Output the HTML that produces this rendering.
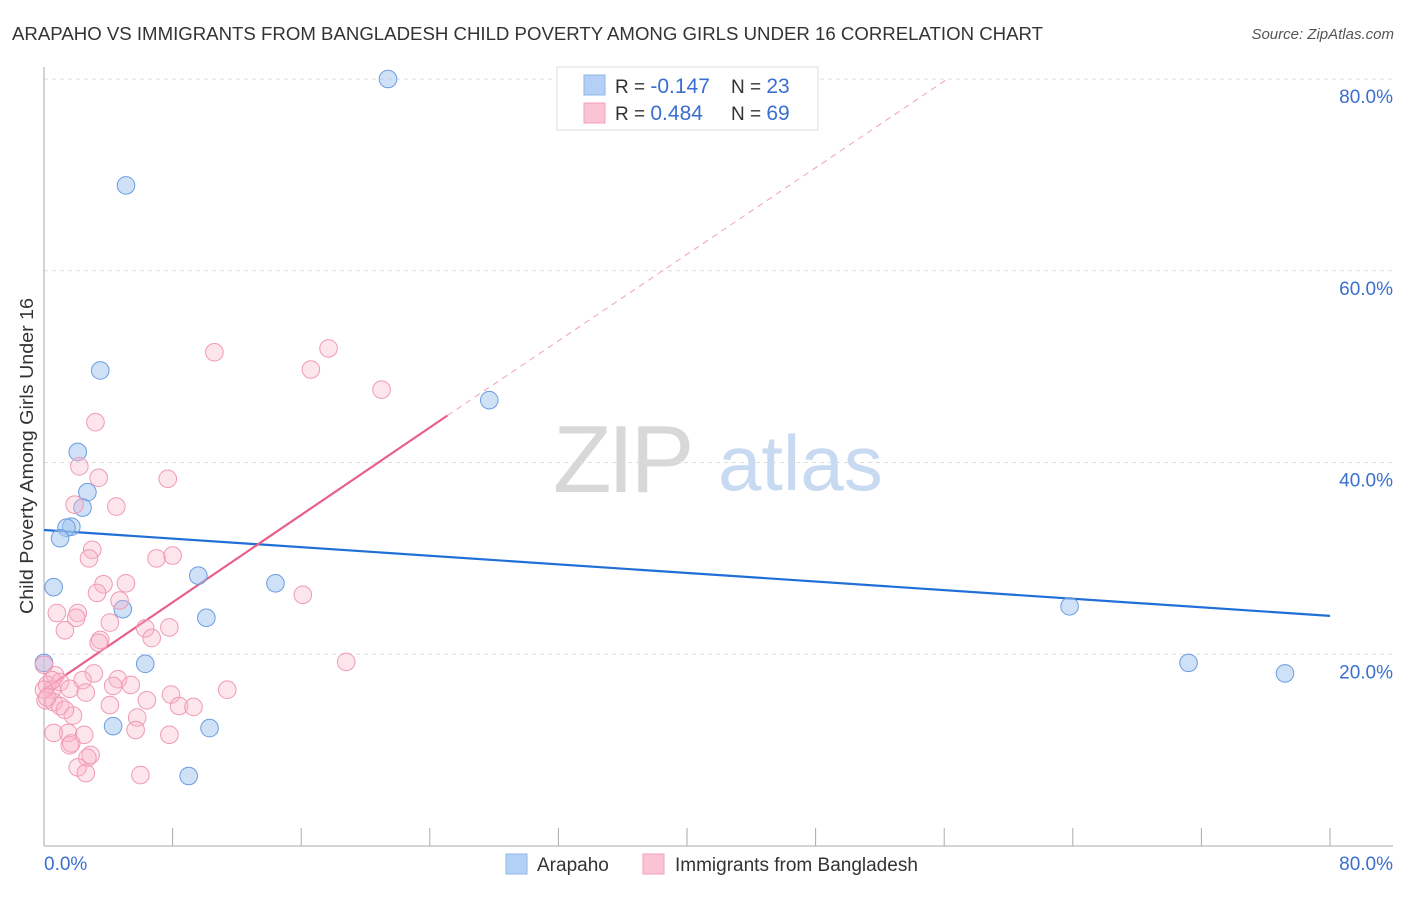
<!DOCTYPE html>
<html><head><meta charset="utf-8">
<style>
body{margin:0;background:#fff;font-family:"Liberation Sans",sans-serif;}
svg text{font-family:"Liberation Sans",sans-serif;}
</style></head>
<body>
<svg id="chart" width="1406" height="892" viewBox="0 0 1406 892">
<text x="12" y="40" font-size="18" fill="#333" textLength="1031" lengthAdjust="spacingAndGlyphs">ARAPAHO VS IMMIGRANTS FROM BANGLADESH CHILD POVERTY AMONG GIRLS UNDER 16 CORRELATION CHART</text>
<text x="1394" y="39" font-size="15" fill="#555" font-style="italic" text-anchor="end">Source: ZipAtlas.com</text>
<g>
<text x="553" y="492" font-size="96" font-family="Liberation Serif,serif" fill="#d8d8d8" letter-spacing="-4">ZIP</text>
<text x="718" y="490" font-size="78" fill="#c8daf2">atlas</text>
</g>
<g id="grid"></g>
<g id="axes"></g>
<g id="lines"></g>
<g id="points"></g>
<text transform="translate(33,456) rotate(-90)" font-size="18" fill="#333" text-anchor="middle" textLength="316" lengthAdjust="spacingAndGlyphs">Child Poverty Among Girls Under 16</text>
<g>
<rect x="557" y="67" width="261" height="63" fill="#fff" stroke="#ddd"/>
<rect x="584" y="75" width="21" height="20" fill="#b4d0f6" stroke="#8fb4e8"/>
<rect x="584" y="103" width="21" height="20" fill="#fbc4d4" stroke="#f0a0b8"/>
<text x="615" y="93" font-size="19" fill="#333">R = <tspan fill="#3a6fd0" font-size="21">-0.147</tspan></text>
<text x="731" y="93" font-size="19" fill="#333">N = <tspan fill="#3a6fd0" font-size="21">23</tspan></text>
<text x="615" y="120" font-size="19" fill="#333">R = <tspan fill="#3a6fd0" font-size="21"> 0.484</tspan></text>
<text x="731" y="120" font-size="19" fill="#333">N = <tspan fill="#3a6fd0" font-size="21">69</tspan></text>
</g>
<g>
<rect x="506" y="854" width="21" height="20" fill="#b4d0f6" stroke="#8fb4e8"/>
<text x="537" y="871" font-size="19" fill="#333">Arapaho</text>
<rect x="643" y="854" width="21" height="20" fill="#fbc4d4" stroke="#f0a0b8"/>
<text x="675" y="871" font-size="19" fill="#333">Immigrants from Bangladesh</text>
</g>
</svg>
<script>
const blueX=[21.4,5.1,3.5,27.7,2.1,2.7,2.4,1.7,1.4,1.0,0.6,9.6,14.4,4.9,10.1,6.3,0.0,4.3,10.3,9.0,63.8,71.2,77.2];
const blueY=[80.0,68.9,49.6,46.5,41.1,36.9,35.3,33.3,33.2,32.1,27.0,28.2,27.4,24.7,23.8,19.0,19.1,12.5,12.3,7.3,25.0,19.1,18.0];
const pinkX=[10.6,17.7,16.6,21.0,3.2,2.2,3.4,7.7,1.9,4.5,3.0,2.8,7.0,8.0,3.7,5.1,3.3,16.1,4.7,0.8,2.1,2.0,1.3,4.1,6.3,7.8,6.7,3.5,3.4,18.8,0.0,0.7,3.1,4.6,2.4,1.0,0.2,0.5,4.3,5.4,1.6,2.6,7.9,11.4,6.4,0.1,0.6,1.0,4.1,8.4,9.3,1.8,5.8,1.3,1.5,2.5,5.7,7.8,0.6,1.6,1.7,2.9,2.7,2.1,2.6,6.0,0.5,0.0,0.2];
const pinkY=[51.5,51.9,49.7,47.6,44.2,39.6,38.4,38.3,35.6,35.4,30.9,30.0,30.0,30.3,27.3,27.4,26.4,26.2,25.6,24.3,24.3,23.8,22.5,23.3,22.7,22.8,21.7,21.5,21.2,19.2,18.9,17.8,18.0,17.4,17.3,17.1,16.8,16.3,16.7,16.8,16.4,16.0,15.8,16.3,15.2,15.2,15.0,14.6,14.7,14.6,14.5,13.6,13.4,14.2,11.8,11.6,12.1,11.6,11.8,10.5,10.7,9.5,9.2,8.2,7.6,7.4,17.3,16.3,15.5];
const yTicks=[20,40,60,80];
const xTickLabels=["0.0%","80.0%"];
const blueTrend=[32.96,24.0];
const pinkTrend=[16.3,44.9,80.0];
const pinkTrendX=[0,25.1,56.2];

const NS="http://www.w3.org/2000/svg";
const X0=44,X1=1330,Y0=846,Y80=79;
const sx=v=>X0+(v/80)*(X1-X0);
const sy=v=>Y0-(v/80)*(Y0-Y80);
function mk(tag,attrs,parent){const e=document.createElementNS(NS,tag);for(const k in attrs)e.setAttribute(k,attrs[k]);document.getElementById(parent).appendChild(e);return e;}

yTicks.forEach(t=>{
  const g=mk('line',{x1:X0,x2:1393,y1:sy(t),y2:sy(t),stroke:'#ddd','stroke-dasharray':'4,4'},'grid');
  
  
  const l=mk('text',{x:1393,y:sy(t)+24,'font-size':19,fill:'#3a6fd0','text-anchor':'end'},'grid');
  l.textContent=t.toFixed(1)+'%';
  
  
});
const ya=mk('line',{x1:X0,x2:X0,y1:67,y2:Y0,stroke:'#aaa'},'axes');


const xa=mk('line',{x1:X0,x2:1393,y1:Y0,y2:Y0,stroke:'#aaa'},'axes');


for(let i=0;i<=10;i++){
  const t=mk('line',{x1:sx(i*8),x2:sx(i*8),y1:828,y2:Y0,stroke:'#aaa'},'axes');
  
  
}
const xl0=mk('text',{x:44,y:870,'font-size':19,fill:'#3a6fd0'},'axes');
xl0.textContent=xTickLabels[0];


const xl1=mk('text',{x:1393,y:870,'font-size':19,fill:'#3a6fd0','text-anchor':'end'},'axes');
xl1.textContent=xTickLabels[1];



blueX.forEach((v,i)=>{
  const c=mk('circle',{cx:sx(v),cy:sy(blueY[i]),r:8.8,fill:'rgba(160,196,240,0.5)',stroke:'#6b9de0','stroke-width':1},'points');
  
  
});
pinkX.forEach((v,i)=>{
  const c=mk('circle',{cx:sx(v),cy:sy(pinkY[i]),r:8.8,fill:'rgba(248,180,200,0.35)',stroke:'#f09ab4','stroke-width':1},'points');
  
  
});
const bl=mk('line',{x1:sx(0),y1:sy(blueTrend[0]),x2:sx(80),y2:sy(blueTrend[1]),stroke:'#1f6fd6','stroke-width':2.2},'lines');


const pl=mk('line',{x1:sx(pinkTrendX[0]),y1:sy(pinkTrend[0]),x2:sx(pinkTrendX[1]),y2:sy(pinkTrend[1]),stroke:'#e8608a','stroke-width':2.2},'lines');


const pd=mk('line',{x1:sx(pinkTrendX[1]),y1:sy(pinkTrend[1]),x2:sx(pinkTrendX[2]),y2:sy(pinkTrend[2]),stroke:'#f0a0b8','stroke-width':1,'stroke-dasharray':'6,5'},'lines');


</script>
</body></html>
